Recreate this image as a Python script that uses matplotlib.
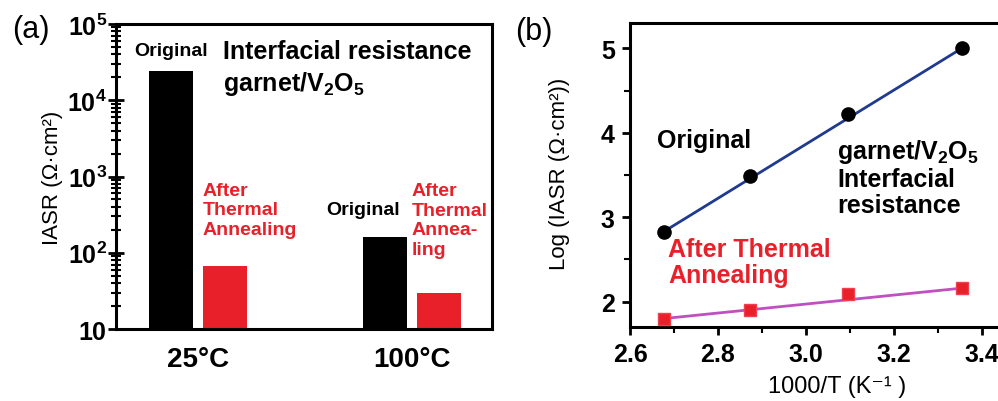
import numpy as np
import matplotlib
matplotlib.use("Agg")
import matplotlib.pyplot as plt
from matplotlib.ticker import FixedLocator, NullFormatter, MultipleLocator

# ---------------- data ----------------
temps = ["25°C", "100°C"]
iasr_original = [2.4e4, 162]
iasr_annealed = [68, 29.5]
log_ticks = [10, 1e2, 1e3, 1e4, 1e5]
log_tick_labels = [r"$\mathbf{10}$", r"$\mathbf{10^{2}}$", r"$\mathbf{10^{3}}$",
                   r"$\mathbf{10^{4}}$", r"$\mathbf{10^{5}}$"]

inv_T = [2.677, 2.873, 3.096, 3.354]
log_original = [2.83, 3.49, 4.22, 5.00]
log_annealed = [1.80, 1.90, 2.09, 2.16]
b_xticks = [2.6, 2.8, 3.0, 3.2, 3.4]
b_xtick_labels = ["2.6", "2.8", "3.0", "3.2", "3.4"]
b_yticks = [2, 3, 4, 5]

# ---------------- style ----------------
FAM = ["Liberation Sans", "DejaVu Sans"]
plt.rcParams["font.family"] = FAM
plt.rcParams["mathtext.fontset"] = "custom"
plt.rcParams["mathtext.rm"] = "Liberation Sans"
plt.rcParams["mathtext.bf"] = "Liberation Sans:bold"
plt.rcParams["mathtext.it"] = "Liberation Sans:italic"
RED = "#e8202a"
W, H = 998, 402

fig = plt.figure(figsize=(W / 100, H / 100), dpi=100)

def fx(x):
    return x / W

def fy(y):
    return 1 - y / H

def ftext(x, y, s, **kw):
    fig.text(fx(x), fy(y), s, **kw)

# ---------------- panel (a) ----------------
axa = fig.add_axes([fx(116), fy(330), fx(492) - fx(116), fy(25) - fy(330)])
xpos = np.arange(len(temps))
off = 0.126
bw = 0.206
axa.bar(xpos - off, iasr_original, width=bw, color="black", bottom=0)
axa.bar(xpos + off, iasr_annealed, width=bw, color=RED, bottom=0)
axa.set_yscale("log")
axa.set_ylim(10, 1e5)
axa.set_xlim(-0.383, 1.374)
axa.yaxis.set_major_locator(FixedLocator(log_ticks))
axa.set_yticklabels(log_tick_labels, fontsize=18)
minor_pos = [k * t for t in log_ticks[:-1] for k in range(2, 10)]
axa.yaxis.set_minor_locator(FixedLocator(minor_pos))
axa.yaxis.set_minor_formatter(NullFormatter())
axa.tick_params(axis="y", which="major", direction="inout", length=11, width=2, pad=1)
axa.tick_params(axis="y", which="minor", direction="inout", length=7, width=1.5)
axa.set_xticks(xpos)
axa.set_xticklabels(temps, fontsize=20, fontweight="bold")
axa.tick_params(axis="x", length=0, pad=12)
for s in axa.spines.values():
    s.set_linewidth(2.2)
axa.set_ylabel("IASR (Ω·cm²)", fontsize=16, labelpad=3)

ftext(171, 52, "Original", fontsize=14, fontweight="bold", ha="center", va="center")
ftext(223, 52, "Interfacial resistance", fontsize=18, fontweight="bold", ha="left", va="center")
ftext(223, 84, r"garnet/V$_{\mathbf{2}}$O$_{\mathbf{5}}$", fontsize=18, fontweight="bold",
      ha="left", va="center")
ftext(203, 211, "After\nThermal\nAnnealing", fontsize=14, fontweight="bold", color=RED,
      ha="left", va="center", linespacing=1.2)
ftext(326, 211, "Original", fontsize=14, fontweight="bold", ha="left", va="center")
ftext(412, 221, "After\nThermal\nAnnea-\nling", fontsize=14, fontweight="bold", color=RED,
      ha="left", va="center", linespacing=1.2)
ftext(31, 30, "(a)", fontsize=22, ha="center", va="center")

# ---------------- panel (b) ----------------
x0b, x1b = 2.6, 3.45
axb = fig.add_axes([fx(630), fy(328), fx(630 + (x1b - x0b) / 0.2 * 88) - fx(630), fy(24) - fy(328)])
axb.set_xlim(x0b, x1b)
axb.set_ylim(1.70, 5.30)

# straight lines through the end points of each series
axb.plot([inv_T[0], inv_T[-1]], [log_original[0], log_original[-1]],
         color="#1f3a8f", lw=2, zorder=2)
axb.plot([inv_T[0], inv_T[-1]], [log_annealed[0], log_annealed[-1]],
         color="#c04fc0", lw=2, zorder=2)
axb.plot(inv_T, log_original, "o", color="black", ms=9.5, zorder=3)
axb.plot(inv_T, log_annealed, "s", color=RED, mec="#f04050", ms=9, zorder=3)

axb.set_xticks(b_xticks)
axb.set_xticklabels(b_xtick_labels, fontsize=18, fontweight="bold")
axb.set_yticks(b_yticks)
axb.set_yticklabels([str(v) for v in b_yticks], fontsize=18, fontweight="bold")
axb.xaxis.set_minor_locator(MultipleLocator(0.1))
axb.yaxis.set_minor_locator(MultipleLocator(0.5))
axb.tick_params(which="major", direction="out", length=6, width=2, pad=5)
axb.tick_params(which="minor", direction="out", length=4, width=1.5)
for s in axb.spines.values():
    s.set_linewidth(2.2)

ftext(560, 174, "Log (IASR (Ω·cm²))", fontsize=16, rotation=90, ha="center", va="center")
ftext(837, 387, "1000/T (K⁻¹ )", fontsize=17, ha="center", va="center")
ftext(657, 141, "Original", fontsize=18, fontweight="bold", ha="left", va="center")
ftext(837, 178, "garnet/V$_{\\mathbf{2}}$O$_{\\mathbf{5}}$\nInterfacial\nresistance", fontsize=18,
      fontweight="bold", ha="left", va="center", linespacing=1.1)
ftext(668, 263, "After Thermal\nAnnealing", fontsize=18, fontweight="bold", color=RED,
      ha="left", va="center", linespacing=1.1)
ftext(534, 32, "(b)", fontsize=22, ha="center", va="center")

fig.savefig("out.png", dpi=100)
